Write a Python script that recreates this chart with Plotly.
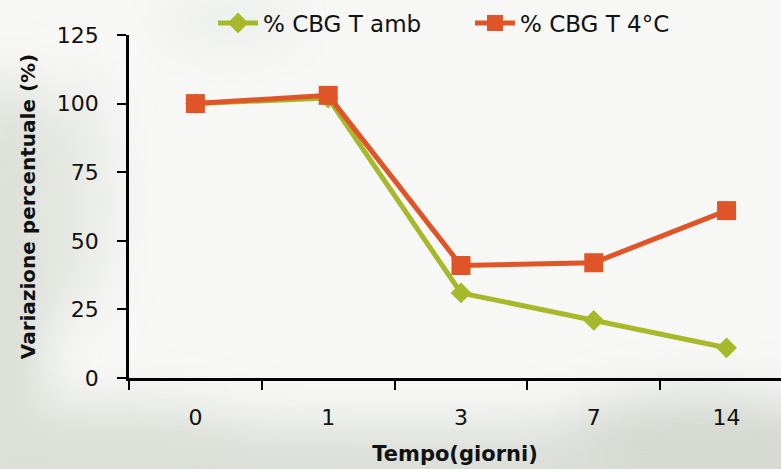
import base64
import plotly.graph_objects as go

categories = ["0", "1", "3", "7", "14"]
cbg_amb = [100, 102, 31, 21, 11]
cbg_4c = [100, 103, 41, 42, 61]
y_ticks = [0, 25, 50, 75, 100, 125]

FONT = "Comic Sans MS, DejaVu Sans, sans-serif"
GREEN = "#A6B92A"
ORANGE = "#E05527"

# soft blurred backdrop resembling the slide background
svg = """<svg xmlns='http://www.w3.org/2000/svg' width='781' height='469'>
<defs><filter id='b' x='-50%' y='-50%' width='200%' height='200%'><feGaussianBlur stdDeviation='24'/></filter></defs>
<rect width='781' height='469' fill='#f7f7f6'/>
<g filter='url(#b)'>
<ellipse cx='5' cy='290' rx='40' ry='220' fill='#d9ded5'/>
<ellipse cx='70' cy='200' rx='40' ry='120' fill='#e6e9e3'/>
<ellipse cx='230' cy='20' rx='70' ry='25' fill='#ebeeea'/>
<rect x='-40' y='425' width='900' height='100' fill='#d8dcd5'/>
<ellipse cx='110' cy='445' rx='170' ry='40' fill='#dbe0d8'/>
<ellipse cx='700' cy='440' rx='150' ry='45' fill='#d5d9d2'/>
<ellipse cx='420' cy='465' rx='220' ry='30' fill='#dcdfd9'/>
</g></svg>"""
bg_uri = "data:image/svg+xml;base64," + base64.b64encode(svg.encode()).decode()

fig = go.Figure()
fig.add_trace(go.Scatter(
    x=categories, y=cbg_amb, name="% CBG T amb", mode="lines+markers",
    line=dict(color=GREEN, width=5),
    marker=dict(symbol="diamond", size=16, color=GREEN),
))
fig.add_trace(go.Scatter(
    x=categories, y=cbg_4c, name="% CBG T 4°C", mode="lines+markers",
    line=dict(color=ORANGE, width=5),
    marker=dict(symbol="square", size=19, color=ORANGE),
))

fig.update_layout(
    width=781, height=469,
    margin=dict(l=129, r=0, t=35, b=91),
    paper_bgcolor="#f7f7f6",
    plot_bgcolor="rgba(0,0,0,0)",
    font=dict(family=FONT, size=20, color="#111111"),
    showlegend=True,
    legend=dict(orientation="h", x=(213 - 129) / 652, xanchor="left", y=1.035, yanchor="middle",
                font=dict(size=23), bgcolor="rgba(0,0,0,0)", itemwidth=40,
                entrywidth=202, entrywidthmode="pixels", tracegroupgap=0),
    images=[dict(source=bg_uri, xref="paper", yref="paper",
                 x=-129 / 652, y=1 + 35 / 343, sizex=781 / 652, sizey=469 / 343,
                 xanchor="left", yanchor="top", sizing="stretch", layer="below")],
    xaxis=dict(
        type="category", range=[-0.5, 4.41],
        tickson="boundaries", ticks="outside", ticklen=9, tickwidth=2, tickcolor="black",
        showline=True, linecolor="black", linewidth=2.5, showgrid=False, zeroline=False,
        ticklabelstandoff=18, tickfont=dict(size=22),
        title=dict(text="<b>Tempo(giorni)</b>", font=dict(size=21), standoff=18),
    ),
    yaxis=dict(
        range=[0, 125], tickvals=y_ticks, ticks="outside", ticklen=9, tickwidth=2,
        tickcolor="black", showline=True, linecolor="black", linewidth=2.5,
        showgrid=False, zeroline=False, ticklabelstandoff=14, tickfont=dict(size=22),
        title=dict(text="<b>Variazione percentuale (%)</b>", font=dict(size=20), standoff=16),
    ),
)

fig.write_html("out.html")
